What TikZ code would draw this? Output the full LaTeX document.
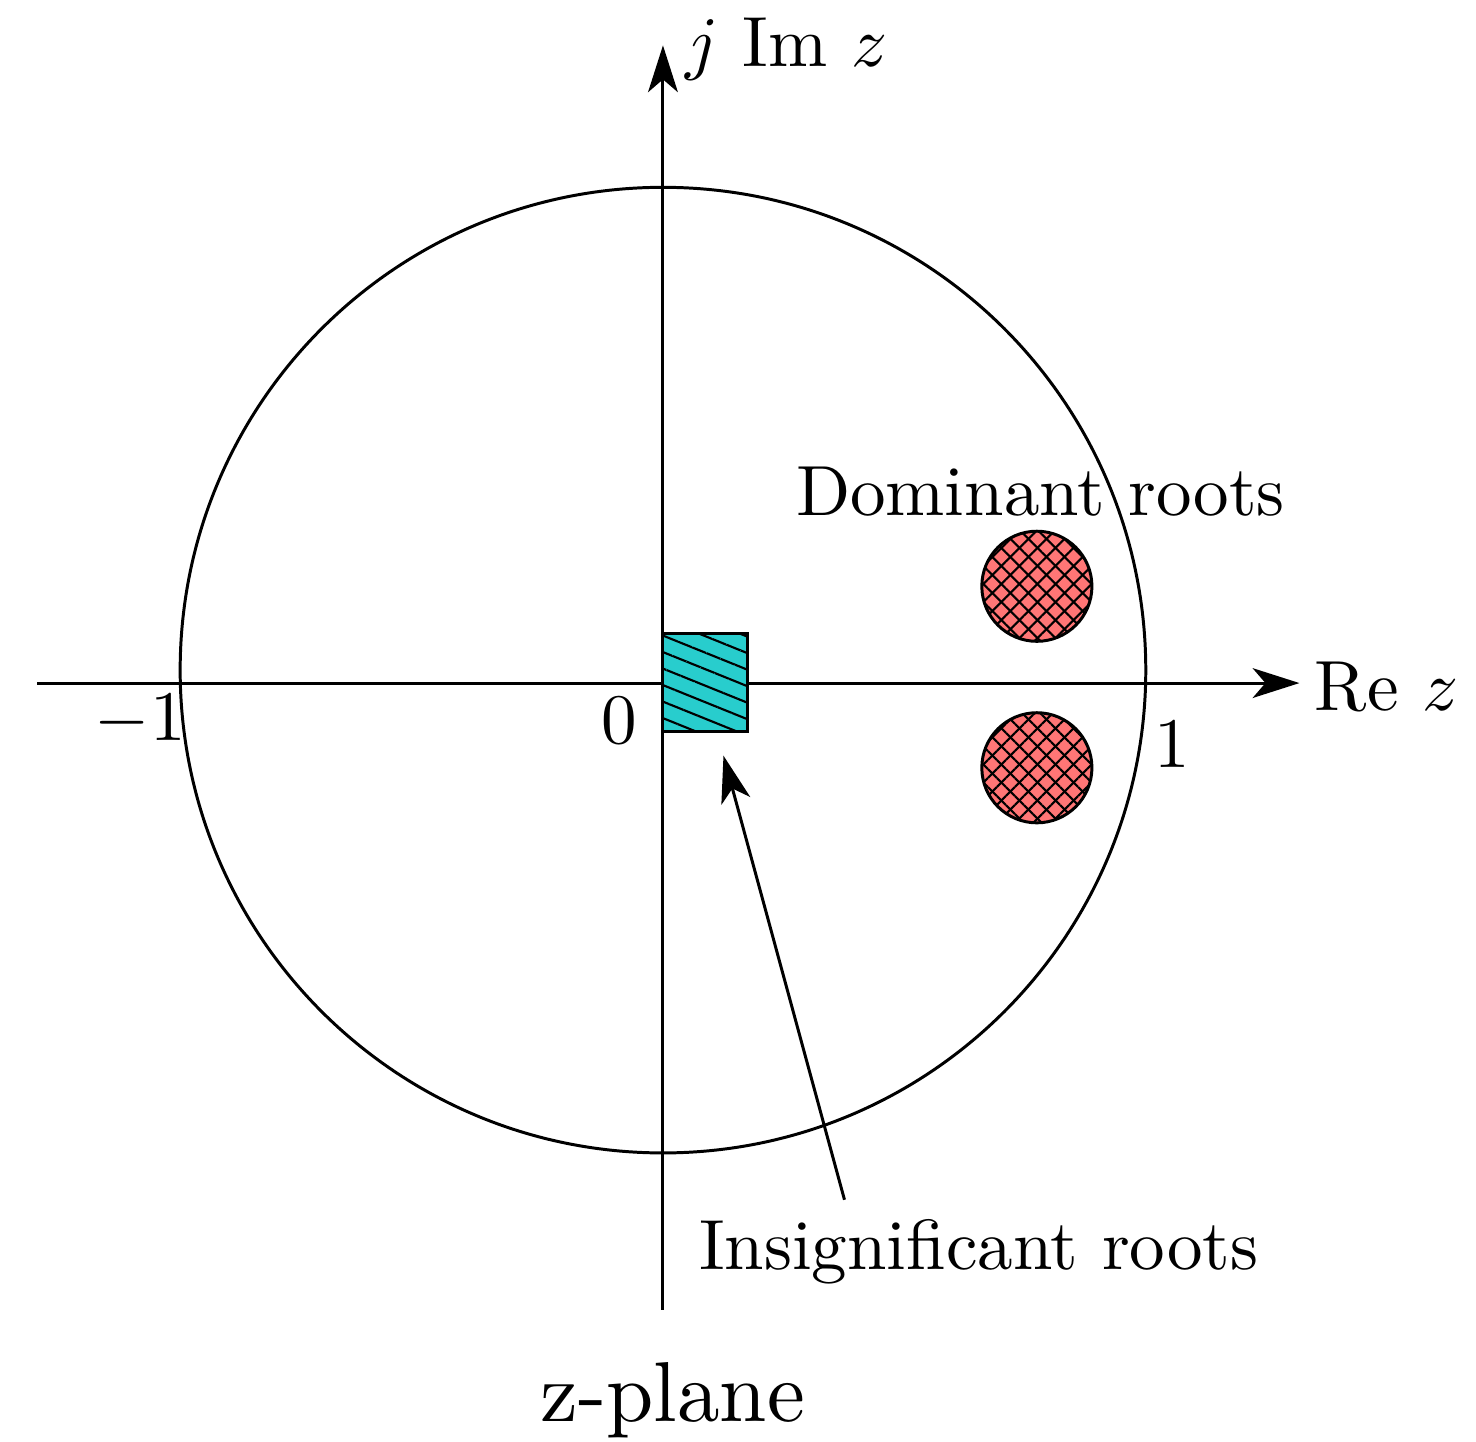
\documentclass[tikz,border=0pt]{standalone}
\usepackage{amsmath}
\usepackage{xcolor}
\usepackage{tikz}
\usetikzlibrary{arrows.meta,patterns.meta}
\definecolor{domred}{RGB}{255,118,118}
\definecolor{inscyan}{RGB}{40,205,205}
\tikzset{
  domroot/.style={circle,draw,minimum size=0.91cm,inner sep=0pt,
    preaction={fill=domred},
    preaction={pattern={Lines[angle=45,distance=3pt,line width=0.5pt]}},
    pattern={Lines[angle=-45,distance=3pt,line width=0.5pt]}},
  insroot/.style={rectangle,draw,minimum width=0.70cm,minimum height=0.81cm,inner sep=0pt,
    preaction={fill=inscyan},pattern={Lines[angle=-22,distance=3.6pt,line width=0.5pt]}},
  lbl/.style={scale=1.67}
}
\begin{document}
\begin{tikzpicture}[>={Stealth[length=11pt,width=7pt,inset=3pt]},line width=0.7pt]
\useasboundingbox (-5.479,-6.264) rectangle (6.719,5.645);
\draw (0,0.107) circle (3.99);
% axes
\coordinate (xl) at (-5.17,0);
\coordinate (xr) at (5.26,0);
\coordinate (yb) at (0,-5.18);
\coordinate (yt) at (0,5.27);
\draw[->] (xl)--(xr);
\draw[->] (yb)--(yt);
\node[lbl,right] (re) at (5.17,-0.03) {Re\ $z$};
\node[lbl] (im) at (1.02,5.24) {$j$\ Im\ $z$};
\node[lbl] (m1) at (-4.32,-0.31) {$-1$};
\node[lbl] (o) at (-0.36,-0.31) {$0$};
\node[lbl] (p1) at (4.21,-0.51) {$1$};
% roots
\node[insroot] (ins) at (0.35,0.005) {};
\node[domroot] (d1) at (3.09,0.80) {};
\node[domroot] (d2) at (3.09,-0.70) {};
\node[lbl] (dom) at (3.12,1.58) {Dominant roots};
\node[lbl] (insig) at (2.61,-4.70) {Insignificant roots};
\coordinate (tip) at (0.50,-0.60);
\coordinate (tail) at (1.50,-4.27);
\draw[->] (tail)--(tip);
\node[scale=2] (zp) at (0.08,-5.93) {z-plane};
\end{tikzpicture}
\end{document}
